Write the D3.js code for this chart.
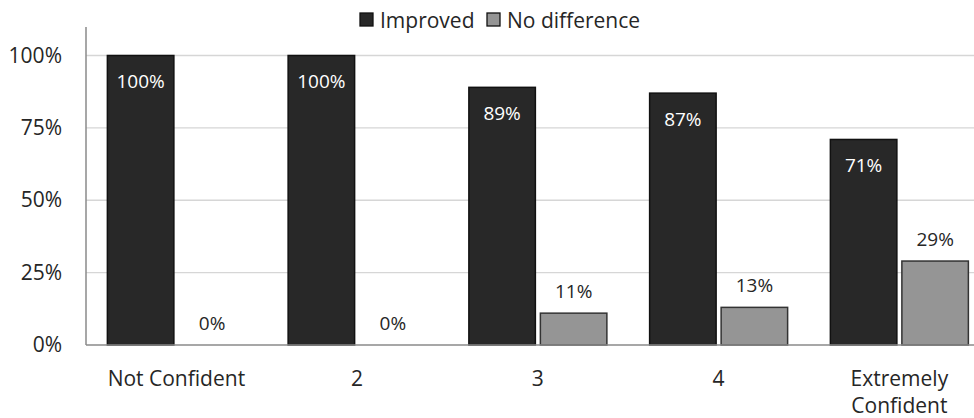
<!DOCTYPE html>
<html>
<head>
<meta charset="utf-8">
<script src="https://cdn.jsdelivr.net/npm/d3@7/dist/d3.min.js"></script>
<style>
  html, body { margin: 0; padding: 0; background: #fff; }
  svg { display: block; }
  text { font-family: "Open Sans", "Noto Sans", sans-serif; fill: #262626; }
</style>
</head>
<body>
<svg id="chart" width="974" height="418"></svg>
<script>
// Share of respondents by confidence level
const categories = [["Not Confident"], ["2"], ["3"], ["4"], ["Extremely", "Confident"]];
const seriesNames = ["Improved", "No difference"];
const improved = [1.00, 1.00, 0.89, 0.87, 0.71];
const noDifference = [0.00, 0.00, 0.11, 0.13, 0.29];
const yTicks = [0, 0.25, 0.5, 0.75, 1.0];

const colors = { "Improved": "#282828", "No difference": "#959595" };
const strokes = { "Improved": "#111", "No difference": "#333" };

const svg = d3.select("#chart");
const plotLeft = 86, plotRight = 989.75, plotTop = 27, plotBase = 345;

const catKeys = categories.map(c => c.join(" "));
const x0 = d3.scaleBand().domain(catKeys).range([plotLeft, plotRight])
  .paddingInner(0.2365).paddingOuter(0.2365 / 2);
const x1 = d3.scaleBand().domain(seriesNames).range([0, x0.bandwidth()])
  .paddingInner(0.07).paddingOuter(0);
const y = d3.scaleLinear().domain([0, 1]).range([plotBase, 55.5]);

// gridlines
svg.append("g").selectAll("line").data(yTicks.filter(t => t > 0)).join("line")
  .attr("x1", plotLeft).attr("x2", 974)
  .attr("y1", d => y(d)).attr("y2", d => y(d))
  .attr("stroke", "#d6d6d6").attr("stroke-width", 1.3);

// y axis labels
const yAxis = d3.axisLeft(y).tickValues(yTicks).tickFormat(d3.format(".0%")).tickSize(0).tickPadding(24);
const yg = svg.append("g").attr("transform", `translate(${plotLeft},0)`).call(yAxis);
yg.select(".domain").remove();
yg.selectAll("text").attr("font-size", 21).attr("fill", "#262626")
  .attr("font-family", '"Open Sans", sans-serif');

// bars
const rows = catKeys.map((k, i) => ({
  key: k,
  values: [
    { name: "Improved", v: improved[i] },
    { name: "No difference", v: noDifference[i] }
  ]
}));

const groups = svg.append("g").selectAll("g").data(rows).join("g")
  .attr("transform", d => `translate(${x0(d.key)},0)`);

groups.selectAll("rect").data(d => d.values).join("rect")
  .attr("x", d => x1(d.name))
  .attr("width", x1.bandwidth())
  .attr("y", d => y(d.v))
  .attr("height", d => plotBase - y(d.v))
  .attr("fill", d => colors[d.name])
  .attr("stroke", d => d.v > 0 ? strokes[d.name] : "none")
  .attr("stroke-width", 1.5);

// value labels: inside for improved, above for no difference
groups.selectAll("text.val").data(d => d.values).join("text")
  .attr("class", "val")
  .attr("x", d => x1(d.name) + x1.bandwidth() / 2)
  .attr("y", d => d.name === "Improved" ? y(d.v) + 32.5 : y(d.v) - 15)
  .attr("text-anchor", "middle")
  .attr("font-size", 19)
  .style("fill", d => d.name === "Improved" ? "#fff" : "#262626")
  .text(d => d3.format(".0%")(d.v));

// axes lines
svg.append("line").attr("x1", plotLeft).attr("x2", plotLeft).attr("y1", plotTop).attr("y2", plotBase)
  .attr("stroke", "#8a8a8a").attr("stroke-width", 1.5);
svg.append("line").attr("x1", plotLeft).attr("x2", 974).attr("y1", plotBase).attr("y2", plotBase)
  .attr("stroke", "#8a8a8a").attr("stroke-width", 1.5);

// category labels
const cl = svg.append("g").selectAll("text").data(categories).join("text")
  .attr("x", (d, i) => x0(catKeys[i]) + x0.bandwidth() / 2)
  .attr("y", 385.5)
  .attr("text-anchor", "middle")
  .attr("font-size", 21);
cl.selectAll("tspan").data(d => d).join("tspan")
  .attr("x", function() { return d3.select(this.parentNode).attr("x"); })
  .attr("dy", (d, i) => i === 0 ? 0 : 27.5)
  .text(d => d);

// legend
const legend = svg.append("g");
const legendX = [360, 487];
seriesNames.forEach((name, i) => {
  legend.append("rect").attr("x", legendX[i]).attr("y", 13).attr("width", 13).attr("height", 13)
    .attr("fill", colors[name]).attr("stroke", "#111").attr("stroke-width", 1.3);
  legend.append("text").attr("x", legendX[i] + 20).attr("y", 27.5).attr("font-size", 21).text(name);
});
</script>
</body>
</html>
